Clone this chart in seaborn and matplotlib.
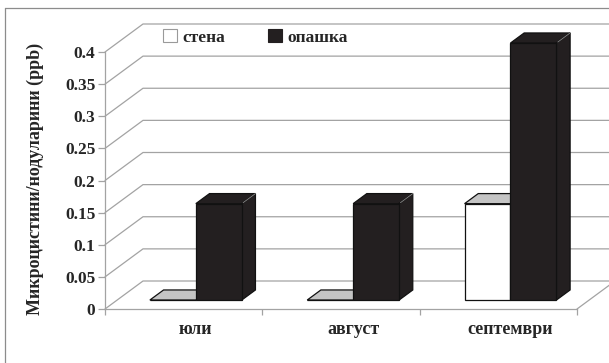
import numpy as np
import pandas as pd
import matplotlib
matplotlib.use("Agg")
import matplotlib.pyplot as plt
from matplotlib.patches import Polygon, Patch
from matplotlib.lines import Line2D
import seaborn as sns

# Data
months = ["юли", "август", "септември"]
sites = ["стена", "опашка"]
stena = [0.0, 0.0, 0.15]
opashka = [0.15, 0.15, 0.4]
yticks = [0, 0.05, 0.1, 0.15, 0.2, 0.25, 0.3, 0.35, 0.4]
ytick_labels = ["0", "0.05", "0.1", "0.15", "0.2", "0.25", "0.3", "0.35", "0.4"]
ylabel = "Микроцистини/нодуларини (ppb)"

df = pd.DataFrame({
    "month": months * 2,
    "site": [sites[0]] * len(months) + [sites[1]] * len(months),
    "value": stena + opashka,
})

sns.set_style("white")
plt.rcParams["font.family"] = ["Liberation Serif", "DejaVu Serif"]
plt.rcParams["font.weight"] = "bold"

W, H = 609, 363
fig = plt.figure(figsize=(W / 100, H / 100), dpi=100)

# oblique projection of the depth axis, in data units
DX, DY = 0.2415, 0.04358
F0, FD = 0.32, 0.36          # bar front plane and bar depth (fractions of full depth)
GRID = "#a3a3a3"
DARK = "#231f20"

ax = fig.add_axes([105 / W, (H - 309) / H, 510 / W, 285 / H])
sns.barplot(data=df, x="month", y="value", hue="site", order=months,
            hue_order=sites, palette=["white", DARK], width=0.584,
            saturation=1, legend=False, edgecolor="#111111", linewidth=0.9,
            ax=ax)

ax.set_xlim(-0.5, 2.5 + DX)
ax.set_ylim(0, 0.4 + DY)

# back wall / side wall gridlines
for v in yticks:
    ax.plot([-0.5, -0.5 + DX, 2.5 + DX], [v, v + DY, v + DY],
            color=GRID, lw=0.9, zorder=1, clip_on=False)
ax.plot([2.5, 2.5 + DX], [0, DY], color=GRID, lw=0.9, zorder=1, clip_on=False)

# extrude bars into 3D boxes
ox, oy = F0 * DX, F0 * DY
bx, by = FD * DX, FD * DY
n = len(months)
for i, p in enumerate(ax.patches):
    is_dark = i >= n
    z = 4 if is_dark else 3
    x, w, h = p.get_x(), p.get_width(), p.get_height()
    x0, y0 = x + ox, oy
    p.set_x(x0)
    p.set_y(y0)
    p.set_zorder(z + 0.2)
    top = y0 + h
    top_col = DARK if is_dark else "#c4c4c4"
    edge = "#111111"
    ax.add_patch(Polygon([(x0, top), (x0 + w, top), (x0 + w + bx, top + by),
                          (x0 + bx, top + by)], closed=True, facecolor=top_col,
                         edgecolor=edge, lw=0.9, zorder=z + 0.1))
    if is_dark:
        ax.add_patch(Polygon([(x0 + w, y0), (x0 + w, top), (x0 + w + bx, top + by),
                              (x0 + w + bx, y0 + by)], closed=True, facecolor=DARK,
                             edgecolor=edge, lw=0.9, zorder=z + 0.1))
        ax.plot([x0 + w + bx * 0.1, x0 + w + bx], [top + by * 0.1, top + by],
                color="#8a8a8a", lw=0.6, zorder=z + 0.3)

# axes lines and ticks
for s in ["top", "right"]:
    ax.spines[s].set_visible(False)
ax.spines["left"].set_bounds(0, 0.4)
ax.spines["bottom"].set_bounds(-0.5, 2.5)
for s in ["left", "bottom"]:
    ax.spines[s].set_color(GRID)
    ax.spines[s].set_linewidth(0.9)

ax.set_yticks(yticks)
ax.set_yticklabels(ytick_labels, fontsize=12.5, fontweight="bold")
ax.tick_params(axis="y", direction="out", length=5, width=0.9, color=GRID, pad=2, left=True)

ax.set_xticks([-0.5, 0.5, 1.5, 2.5])
ax.set_xticklabels([])
ax.tick_params(axis="x", which="major", direction="out", length=4, width=0.9,
               color=GRID, bottom=True)
ax.set_xticks([k + ox for k in range(n)], minor=True)
ax.set_xticklabels(months, minor=True, fontsize=13, fontweight="bold")
ax.tick_params(axis="x", which="minor", length=0, pad=9)
ax.set_xlabel("")
ax.set_ylabel("")

fig.text(35 / W, 1 - 179 / H, ylabel, rotation=90, ha="center", va="center",
         fontsize=13, fontweight="bold")

handles = [Patch(facecolor="white", edgecolor="#9a9a9a", lw=0.8),
           Patch(facecolor=DARK, edgecolor=DARK, lw=0.8)]
fig.legend(handles, sites, loc="upper left", bbox_to_anchor=(163 / W, 1 - 29 / H),
           ncol=2, frameon=False, handlelength=0.8, handleheight=0.8,
           handletextpad=0.3, columnspacing=2.5, borderpad=0, borderaxespad=0,
           prop={"size": 12.5, "weight": "bold"})

# outer chart frame
fig.add_artist(Line2D([5 / W, 1.0], [1 - 8 / H, 1 - 8 / H], transform=fig.transFigure,
                      color="#8c8c8c", lw=0.9))
fig.add_artist(Line2D([5 / W, 5 / W], [0, 1 - 8 / H], transform=fig.transFigure,
                      color="#8c8c8c", lw=0.9))

fig.savefig("out.png", dpi=100)
